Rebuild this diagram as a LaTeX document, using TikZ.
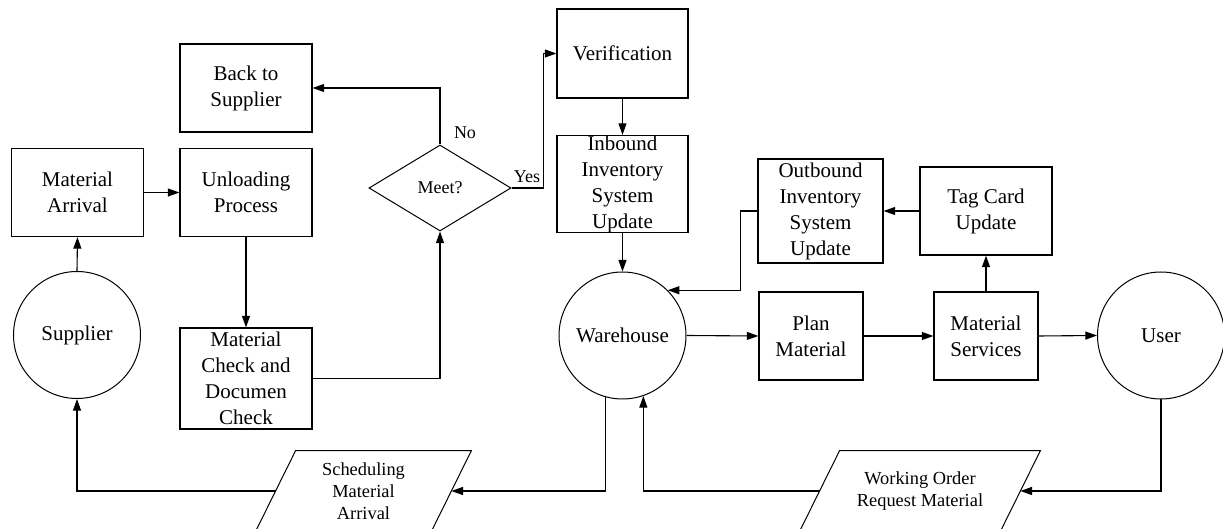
\documentclass[tikz,border=0pt]{standalone}
\usepackage{fontspec}
\setmainfont{Liberation Serif}
\usetikzlibrary{shapes.geometric,arrows.meta}

\begin{document}
\begin{tikzpicture}[x=0.5pt, y=-0.5pt,
    boite/.style={draw, line width=0.6pt, inner sep=0pt, align=center,
        minimum width=66pt, minimum height=44pt, font=\fontsize{10.5pt}{13pt}\selectfont},
    rond/.style={draw, circle, line width=0.5pt, inner sep=0pt,
        minimum size=63.5pt, font=\fontsize{10.5pt}{13pt}\selectfont},
    donnee/.style={inner sep=0pt, minimum height=40pt, align=center,
        font=\fontsize{9.2pt}{11pt}\selectfont},
    fleche/.style={-{Triangle[length=5.8pt,width=4pt]}, line width=0.55pt}]
    % Cadre de la figure
    \clip (0,0) rectangle (1223,529);

    % Côté fournisseur
    \node[rond] (supplier) at (77,335) {Supplier};
    \node[boite] (arrival) at (77.5,192.5) {Material\\Arrival};
    \node[boite] (unload) at (246,192.5) {Unloading\\Process};
    \node[boite] (back) at (246,88) {Back to\\Supplier};
    \node[boite, minimum height=50.5pt] (check) at (246,378.5) {Material\\Check and\\Documen\\Check};
    \node[draw, diamond, aspect=1.65, line width=0.5pt, inner sep=0pt, minimum width=71pt,
        minimum height=43pt, font=\fontsize{9pt}{11pt}\selectfont] (meet) at (440,188) {Meet?};

    % Réception et entrepôt
    \node[boite, minimum width=65.5pt, minimum height=44.5pt] (verif) at (622.5,53.5) {Verification};
    \node[boite, minimum width=65.5pt, minimum height=47pt] (inbound) at (622.5,184) {Inbound\\Inventory\\System\\Update};
    \node[rond] (warehouse) at (622.5,335.5) {Warehouse};

    % Sortie vers l'utilisateur
    \node[boite, minimum width=62.5pt, minimum height=52pt] (outbound) at (820.5,211) {Outbound\\Inventory\\System\\Update};
    \node[boite] (tag) at (986,211) {Tag Card\\Update};
    \node[boite, minimum width=52pt] (plan) at (811,336) {Plan\\Material};
    \node[boite, minimum width=52pt] (serv) at (986,336) {Material\\Services};
    \node[rond] (user) at (1161,335.5) {User};

    % Documents : parallélogrammes tracés autour du texte
    \node[donnee, minimum width=87.5pt] (sched) at (363.5,491) {Scheduling\\Material\\Arrival};
    \node[donnee, minimum width=100pt] (order) at (920,491) {Working Order\\Request Material};
    \foreach \doc in {sched,order}
        \draw[line width=0.5pt] ([xshift=10pt]\doc.north west) -- ([xshift=10pt]\doc.north east)
            -- ([xshift=-10pt]\doc.south east) -- ([xshift=-10pt]\doc.south west) -- cycle;

    % Flèches
    \draw[fleche] (supplier.north) -- (arrival.south);
    \draw[fleche] (arrival.east) -- (unload.west);
    \draw[fleche] (unload.south) -- (check.north);
    \draw[fleche] (check.east) -| (meet.south);
    \draw[fleche] (meet.north) |- (back.east);
    \draw[fleche] (meet.east) -- ++(32,0) |- (verif.west);
    \draw[fleche] (verif.south) -- (inbound.north);
    \draw[fleche] (inbound.south) -- (warehouse.north);
    \draw[fleche] (warehouse.east) -- (plan.west);
    \draw[fleche] (plan.east) -- (serv.west);
    \draw[fleche] (serv.east) -- (user.west);
    \draw[fleche] (serv.north) -- (tag.south);
    \draw[fleche] (tag.west) -- (outbound.east);
    \draw[fleche] (outbound.west) -- ++(-17,0) |- (warehouse.north east);
    \draw[fleche] (warehouse.255) |- (sched.east);
    \draw[fleche] (sched.west) -| (supplier.south);
    \draw[fleche] (user.south) |- (order.east);
    \draw[fleche] (order.west) -| (warehouse.289);

    % Étiquettes de la décision
    \node[font=\fontsize{9pt}{11pt}\selectfont] (non) at (465,133) {No};
    \node[font=\fontsize{9pt}{11pt}\selectfont] (oui) at (527,177) {Yes};
\end{tikzpicture}
\end{document}
